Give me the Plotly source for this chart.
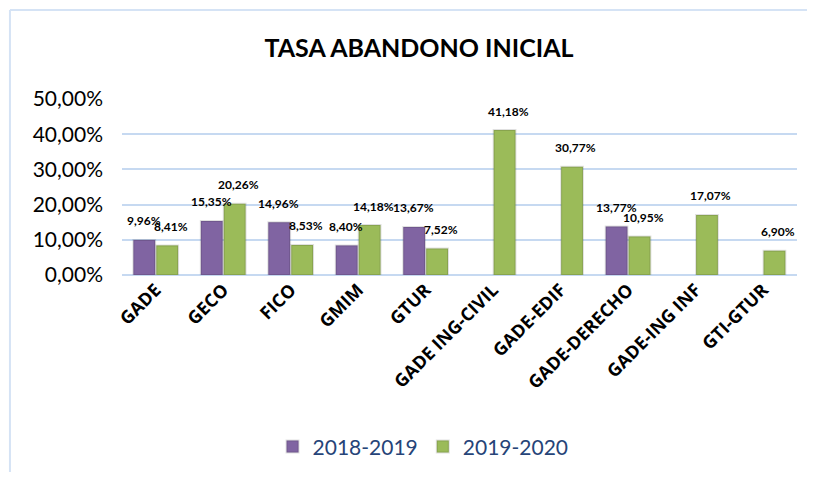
import plotly.graph_objects as go

# data
categories = ["GADE", "GECO", "FICO", "GMIM", "GTUR", "GADE ING-CIVIL",
              "GADE-EDIF", "GADE-DERECHO", "GADE-ING INF", "GTI-GTUR"]
curso_2018_2019 = [0.0996, 0.1535, 0.1496, 0.0840, 0.1367, None, None, 0.1377, None, None]
curso_2019_2020 = [0.0841, 0.2026, 0.0853, 0.1418, 0.0752, 0.4118, 0.3077, 0.1095, 0.1707, 0.0690]

purple = "#8064A2"
green = "#9BBB59"
grid = "#C6D9F1"

fig = go.Figure()
fig.add_trace(go.Bar(x=categories, y=curso_2018_2019, name="2018-2019",
                     marker=dict(color=purple, line=dict(color="rgba(0,0,0,0.12)", width=2))))
fig.add_trace(go.Bar(x=categories, y=curso_2019_2020, name="2019-2020",
                     marker=dict(color=green, line=dict(color="rgba(0,0,0,0.12)", width=2))))

# data labels above bars
def fmt(v):
    return ("%.2f%%" % (v * 100)).replace(".", ",")

for vals, shift in [(curso_2018_2019, -12), (curso_2019_2020, 15)]:
    for c, v in zip(categories, vals):
        if v is None:
            continue
        fig.add_annotation(x=c, y=v, text="<b>" + fmt(v) + "</b>", showarrow=False,
                           xshift=shift, yshift=19, font=dict(size=12, color="black"))

# chart border (left and top edges visible)
fig.add_shape(type="line", xref="paper", yref="paper", x0=-0.166, x1=1.1, y0=1.506, y1=1.506,
              line=dict(color="#D5E3F5", width=2))
fig.add_shape(type="line", xref="paper", yref="paper", x0=-0.166, x1=-0.166, y0=1.506, y1=-1.3,
              line=dict(color="#D5E3F5", width=2))

fig.update_layout(
    width=799, height=464,
    margin=dict(l=114, r=10, t=91, b=197, autoexpand=False),
    paper_bgcolor="white", plot_bgcolor="white",
    font=dict(family="Lato", color="black"),
    separators=",.",
    title=dict(text="<b>TASA ABANDONO INICIAL</b>", xref="paper", x=0.44, xanchor="center",
               yref="container", y=0.914, yanchor="middle", font=dict(size=25, color="black")),
    barmode="group", bargap=0.32, bargroupgap=0.05,
    showlegend=True,
    legend=dict(orientation="h", x=0.446, xanchor="center", y=-0.977, yanchor="middle",
                font=dict(size=21, color="#264478")),
)
fig.update_yaxes(range=[0, 0.5], dtick=0.1, tickformat=".2%", showgrid=True, gridcolor=grid,
                 gridwidth=2, zeroline=True, zerolinecolor=grid, zerolinewidth=2,
                 tickfont=dict(size=21), ticks="", ticklabelstandoff=18, showline=False,
                 automargin=False)
fig.update_xaxes(tickangle=-45, tickfont=dict(size=18, family="Open Sans", weight="bold"),
                 ticks="", showline=False, automargin=False)

fig.write_html("out.html")
